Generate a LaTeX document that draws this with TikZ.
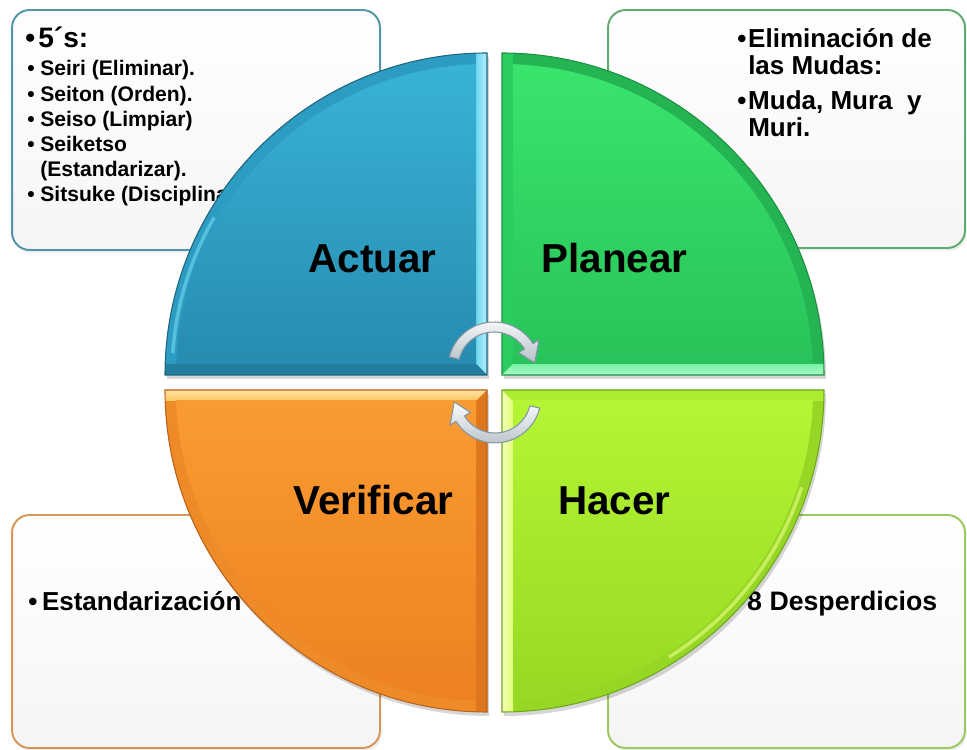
\documentclass[tikz,border=0pt]{standalone}
\usepackage{fontspec}
\setmainfont{Liberation Sans}
\usetikzlibrary{shadows}
\definecolor{tlA}{RGB}{58,180,218}
\definecolor{tlB}{RGB}{38,140,176}
\definecolor{tlBand}{RGB}{44,156,194}
\definecolor{tlLight}{RGB}{130,230,248}
\definecolor{tlDark}{RGB}{34,125,158}
\definecolor{tlLine}{RGB}{30,100,125}
\definecolor{trA}{RGB}{58,230,110}
\definecolor{trB}{RGB}{40,195,90}
\definecolor{trBand}{RGB}{36,180,82}
\definecolor{trLight}{RGB}{135,245,178}
\definecolor{trDark}{RGB}{44,205,96}
\definecolor{trLine}{RGB}{28,145,66}
\definecolor{blA}{RGB}{250,155,50}
\definecolor{blB}{RGB}{235,128,32}
\definecolor{blBand}{RGB}{238,138,40}
\definecolor{blLight}{RGB}{255,208,105}
\definecolor{blDark}{RGB}{222,118,30}
\definecolor{blLine}{RGB}{185,98,25}
\definecolor{brA}{RGB}{180,245,52}
\definecolor{brB}{RGB}{150,215,36}
\definecolor{brBand}{RGB}{150,215,38}
\definecolor{brLight}{RGB}{236,255,135}
\definecolor{brDark}{RGB}{172,236,50}
\definecolor{brLine}{RGB}{112,165,30}
\definecolor{tlBox}{RGB}{80,148,170}
\definecolor{trBox}{RGB}{95,172,110}
\definecolor{blBox}{RGB}{214,150,90}
\definecolor{brBox}{RGB}{155,200,95}
\definecolor{arrFill}{RGB}{214,226,234}
\definecolor{arrLine}{RGB}{128,150,165}
\begin{document}
\begin{tikzpicture}[x=0.02cm,y=0.02cm,
  infobox/.style={rounded corners=10pt, line width=1.1pt, top color=white, bottom color=black!4,
     drop shadow={opacity=0.15,shadow xshift=1pt,shadow yshift=-1.5pt}, inner sep=0pt},
  phase/.style={font=\fontsize{23}{27}\selectfont\bfseries, anchor=base, inner sep=0pt},
  boxtext/.style={anchor=base west, inner sep=0pt},
  cyc/.style={draw=arrLine, line width=0.6pt, top color=white!92!arrFill, bottom color=arrFill!85!black}
]
\useasboundingbox (0,0) rectangle (967,750);

% ---------- boxes ----------
\node[infobox, draw=tlBox, minimum width=7.36cm, minimum height=4.8cm] (boxTL) at (196,620) {};
\node[infobox, draw=trBox, minimum width=7.14cm, minimum height=4.76cm] (boxTR) at (786.5,621) {};
\node[infobox, draw=blBox, minimum width=7.36cm, minimum height=4.66cm] (boxBL) at (196,118.5) {};
\node[infobox, draw=brBox, minimum width=7.14cm, minimum height=4.66cm] (boxBR) at (786.5,118.5) {};

% ---------- box texts ----------
\node[boxtext] (h5s) at (25,702) {\fontsize{16}{18}\selectfont\bfseries\makebox[7.4pt][l]{•}5´s:};
\node[boxtext] (items5s) at (27,674) {\fontsize{12}{14.3}\selectfont\bfseries
  \begin{tabular}[t]{@{}l@{}}
  \makebox[7.4pt][l]{•}Seiri (Eliminar).\\
  \makebox[7.4pt][l]{•}Seiton (Orden).\\
  \makebox[7.4pt][l]{•}Seiso (Limpiar)\\
  \makebox[7.4pt][l]{•}Seiketso\\
  \hspace*{7.4pt}(Estandarizar).\\
  \makebox[7.4pt][l]{•}Sitsuke (Disciplina).
  \end{tabular}};
\node[boxtext] (mudas) at (737,702) {\fontsize{14.8}{15.3}\selectfont\bfseries
  \begin{tabular}[t]{@{}l@{}}
  \makebox[6.2pt][l]{•}Eliminación de\\
  \hspace*{6.2pt}las Mudas:\\[4.6pt]
  \makebox[6.2pt][l]{•}Muda, Mura\ \ y\\
  \hspace*{6.2pt}Muri.
  \end{tabular}};
\node[boxtext] (estd) at (28,139) {\fontsize{14.8}{17}\selectfont\bfseries\makebox[7.8pt][l]{•}Estandarización};
\node[boxtext] (desp) at (736,139) {\fontsize{15.2}{17}\selectfont\bfseries\makebox[6.2pt][l]{•}8 Desperdicios};

% ---------- shadows of quadrants ----------
\begin{scope}[black, opacity=0.16]
\fill (489,371) -- (167,371) arc[start angle=180,end angle=90,radius=322] -- cycle;
\fill (504,371) -- (504,693) arc[start angle=90,end angle=0,radius=322] -- cycle;
\fill (489,356) -- (489,34) arc[start angle=270,end angle=180,radius=322] -- cycle;
\fill (504,356) -- (826,356) arc[start angle=0,end angle=-90,radius=322] -- cycle;
\end{scope}

% ---------- Actuar (top left) ----------
\begin{scope}
\clip (487,375) -- (165,375) arc[start angle=180,end angle=90,radius=322] -- cycle;
\fill[tlBand] (160,370) rectangle (490,700);
\draw[tlLight, line width=2pt, opacity=0.5] (487,375) ++(176:315) arc[start angle=176,end angle=150,radius=315];
\shade[left color=tlLight!70!tlA, right color=tlLight!60!white] (487,375) -- (487,700) -- (476,700) -- (476,386) -- cycle;
\fill[tlDark] (487,375) -- (160,375) -- (160,386) -- (476,386) -- cycle;
\begin{scope}
\clip (487,375) circle[radius=311];
\shade[top color=tlA, bottom color=tlB] (160,386) rectangle (476,700);
\end{scope}
\end{scope}
\draw[tlLine, line width=0.6pt] (487,375) -- (165,375) arc[start angle=180,end angle=90,radius=322] -- cycle;

% ---------- Planear (top right) ----------
\begin{scope}
\clip (502,375) -- (502,697) arc[start angle=90,end angle=0,radius=322] -- cycle;
\fill[trBand] (498,370) rectangle (830,700);
\fill[trDark] (502,375) -- (502,700) -- (513,700) -- (513,386) -- cycle;
\shade[top color=trLight!80!trA, bottom color=trLight!70!white] (502,375) -- (830,375) -- (830,386) -- (513,386) -- cycle;
\begin{scope}
\clip (502,375) circle[radius=311];
\shade[top color=trA, bottom color=trB] (513,386) rectangle (830,700);
\end{scope}
\end{scope}
\draw[trLine, line width=0.6pt] (502,375) -- (502,697) arc[start angle=90,end angle=0,radius=322] -- cycle;

% ---------- Verificar (bottom left) ----------
\begin{scope}
\clip (487,360) -- (487,38) arc[start angle=270,end angle=180,radius=322] -- cycle;
\fill[blBand] (160,35) rectangle (490,365);
\fill[blDark] (487,360) -- (487,35) -- (476,35) -- (476,349) -- cycle;
\shade[top color=blLight!60!white, bottom color=blLight!80!blA] (487,360) -- (160,360) -- (160,349) -- (476,349) -- cycle;
\begin{scope}
\clip (487,360) circle[radius=311];
\shade[top color=blA, bottom color=blB] (160,35) rectangle (476,349);
\end{scope}
\end{scope}
\draw[blLine, line width=0.6pt] (487,360) -- (487,38) arc[start angle=270,end angle=180,radius=322] -- cycle;

% ---------- Hacer (bottom right) ----------
\begin{scope}
\clip (502,360) -- (824,360) arc[start angle=0,end angle=-90,radius=322] -- cycle;
\fill[brBand] (498,35) rectangle (830,365);
\draw[brLight, line width=2pt, opacity=0.6] (502,360) ++(-18:315) arc[start angle=-18,end angle=-58,radius=315];
\shade[left color=brLight!60!white, right color=brLight!80!brA] (502,360) -- (502,35) -- (513,35) -- (513,349) -- cycle;
\fill[brDark] (502,360) -- (830,360) -- (830,349) -- (513,349) -- cycle;
\begin{scope}
\clip (502,360) circle[radius=311];
\shade[top color=brA, bottom color=brB] (513,35) rectangle (830,349);
\end{scope}
\end{scope}
\draw[brLine, line width=0.6pt] (502,360) -- (824,360) arc[start angle=0,end angle=-90,radius=322] -- cycle;

% ---------- phase labels ----------
\node[phase] (actuar) at (372.5,477) {Actuar};
\node[phase] (planear) at (614.5,477) {Planear};
\node[phase] (verificar) at (373.5,235) {Verificar};
\node[phase] (hacer) at (614.5,235) {Hacer};

% ---------- cycle arrows ----------
\begin{scope}[shift={(494,382)}]
\path[cyc] (166:46) arc[start angle=166,end angle=32,radius=46] -- (32:53) -- (7:41) -- (32:29) -- (32:36)
   arc[start angle=32,end angle=166,radius=36] -- cycle;
\end{scope}
\begin{scope}[shift={(495,353)}]
\path[cyc] (346:46) arc[start angle=346,end angle=212,radius=46] -- (212:53) -- (187:41) -- (212:29) -- (212:36)
   arc[start angle=212,end angle=346,radius=36] -- cycle;
\end{scope}
\end{tikzpicture}
\end{document}
